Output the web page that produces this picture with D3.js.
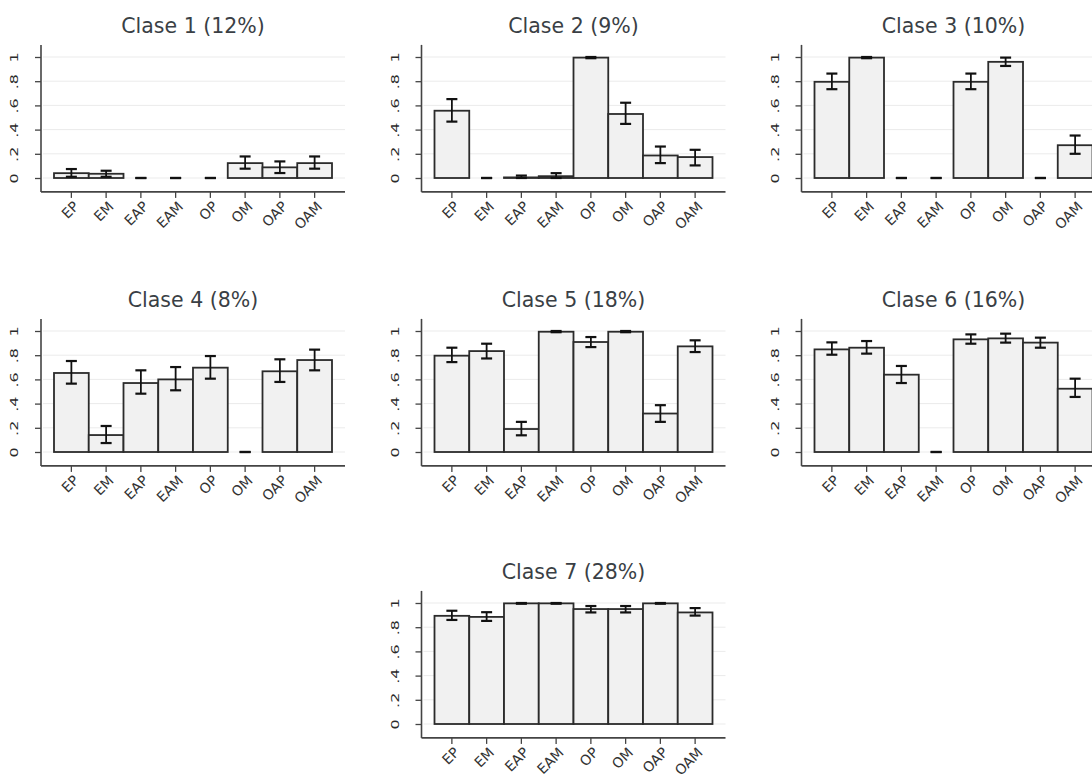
<!DOCTYPE html>
<html>
<head>
<meta charset="utf-8">
<script src="https://cdn.jsdelivr.net/npm/d3@7"></script>
<style>
  body { margin: 0; background: #fff; }
  text { font-family: "DejaVu Sans", "Noto Sans", sans-serif; }
</style>
</head>
<body>
<div class="canvas"></div>
<script>
const categories = ['EP', 'EM', 'EAP', 'EAM', 'OP', 'OM', 'OAP', 'OAM']
const classNames = ['Clase 1', 'Clase 2', 'Clase 3', 'Clase 4', 'Clase 5', 'Clase 6', 'Clase 7']
const classShares = [12, 9, 10, 8, 18, 16, 28]
const yTicks = [0, .2, .4, .6, .8, 1]
const yTickLabels = ['0', '.2', '.4', '.6', '.8', '1']

// share of each class per category
const means = [
  [.04, .035, 0, 0, 0, .123, .088, .123],
  [.556, 0, .005, .015, .995, .529, .186, .173],
  [.795, .995, 0, 0, .795, .96, 0, .271],
  [.653, .14, .57, .6, .697, 0, .667, .76],
  [.796, .834, .19, .994, .909, .994, .318, .873],
  [.848, .862, .639, 0, .931, .939, .904, .523],
  [.894, .885, .997, .997, .95, .95, .997, .922]
]
const lows = [
  [.01, .01, 0, 0, 0, .077, .041, .077],
  [.466, 0, 0, 0, .99, .447, .123, .104],
  [.734, .99, 0, 0, .734, .926, 0, .2],
  [.565, .074, .482, .51, .606, 0, .579, .675],
  [.743, .773, .138, .99, .867, .99, .249, .826],
  [.804, .813, .57, 0, .895, .904, .862, .455],
  [.86, .852, .994, .994, .922, .922, .994, .896]
]
const highs = [
  [.074, .06, 0, 0, 0, .178, .137, .178],
  [.652, 0, .02, .04, 1, .622, .26, .233],
  [.863, 1, 0, 0, .863, .995, 0, .351],
  [.752, .215, .675, .702, .793, 0, .766, .846],
  [.862, .895, .249, 1, .95, 1, .387, .923],
  [.906, .917, .711, 0, .972, .978, .945, .606],
  [.936, .924, 1, 1, .975, .975, 1, .958]
]

const svg = d3.select('.canvas').append('svg').attr('width', 1092).attr('height', 777)

// panel origins: x of the y axis, y of the zero tick
const origins = [
  {x: 41, y: 178}, {x: 421.5, y: 178}, {x: 801.5, y: 178},
  {x: 41, y: 452}, {x: 421.5, y: 452}, {x: 801.5, y: 452},
  {x: 421.5, y: 724}
]

const unitH = 121
const axisW = 304

classNames.forEach((name, k) => {
  const o = origins[k]
  const g = svg.append('g').attr('transform', `translate(${o.x}, ${o.y - unitH})`)

  const y = d3.scaleLinear().domain([0, 1]).range([unitH, 0])
  const x = d3.scaleBand().domain(categories).range([13, 13 + 278]).padding(0)
  const bottom = y(-0.115)

  // gridlines
  g.selectAll('.grid').data(yTicks).enter().append('line')
    .attr('x1', 2).attr('x2', axisW)
    .attr('y1', d => y(d)).attr('y2', d => y(d))
    .attr('stroke', '#ebebeb').attr('stroke-width', 1)

  const rows = categories.map((c, i) => ({c, m: means[k][i], lo: lows[k][i], hi: highs[k][i]}))

  // bars
  g.selectAll('rect').data(rows.filter(d => d.m > 0)).enter().append('rect')
    .attr('x', d => x(d.c))
    .attr('y', d => y(d.m))
    .attr('width', x.bandwidth())
    .attr('height', d => y(0) - y(d.m))
    .attr('fill', '#f1f1f1')
    .attr('stroke', '#2b2b2b')
    .attr('stroke-width', 1.8)

  // error bars
  const cap = 5.5
  const eb = g.selectAll('.eb').data(rows).enter().append('g')
    .attr('transform', d => `translate(${x(d.c) + x.bandwidth() / 2}, 0)`)
  eb.append('line').attr('x1', 0).attr('x2', 0)
    .attr('y1', d => y(d.lo)).attr('y2', d => y(d.hi))
    .attr('stroke', '#111').attr('stroke-width', 1.8)
  eb.append('line').attr('x1', -cap).attr('x2', cap)
    .attr('y1', d => y(d.lo)).attr('y2', d => y(d.lo))
    .attr('stroke', '#111').attr('stroke-width', 2.2)
  eb.append('line').attr('x1', -cap).attr('x2', cap)
    .attr('y1', d => y(d.hi)).attr('y2', d => y(d.hi))
    .attr('stroke', '#111').attr('stroke-width', 2.2)

  // y axis
  const yAxis = d3.axisLeft(y).tickValues(yTicks).tickSize(6)
    .tickFormat((d, i) => yTickLabels[i])
  const yAxisGroup = g.append('g').call(yAxis)
  yAxisGroup.select('.domain').remove()
  yAxisGroup.append('line').attr('x1', 0).attr('x2', 0)
    .attr('y1', y(1.1)).attr('y2', bottom)
    .attr('stroke', '#444').attr('stroke-width', 1.6)
  yAxisGroup.selectAll('.tick line').attr('stroke', '#444').attr('stroke-width', 1.3)
  yAxisGroup.selectAll('.tick text')
    .attr('transform', 'rotate(-90) scale(1.45, 1)')
    .attr('x', 0).attr('y', -23)
    .attr('text-anchor', 'middle')
    .attr('dy', 0)
    .attr('fill', '#2a2a2a')
    .style('font-size', '11px')

  // x axis
  const xAxis = d3.axisBottom(x).tickSize(6)
  const xAxisGroup = g.append('g').attr('transform', `translate(0, ${bottom})`).call(xAxis)
  xAxisGroup.select('.domain').remove()
  xAxisGroup.append('line').attr('x1', 0).attr('x2', axisW)
    .attr('y1', 0).attr('y2', 0)
    .attr('stroke', '#444').attr('stroke-width', 1.6)
  xAxisGroup.selectAll('.tick line').attr('stroke', '#444').attr('stroke-width', 1.3)
  xAxisGroup.selectAll('.tick text')
    .attr('x', 0).attr('y', 0)
    .attr('transform', 'translate(5, 12) rotate(-45)')
    .attr('text-anchor', 'end')
    .attr('dy', '0.35em')
    .attr('fill', '#333')
    .style('font-size', '14px')

  // title
  g.append('text')
    .attr('x', axisW / 2)
    .attr('y', -24)
    .attr('text-anchor', 'middle')
    .attr('fill', '#3a3f45')
    .style('font-size', '20.5px')
    .text(`${name} (${classShares[k]}%)`)
})
</script>
</body>
</html>
